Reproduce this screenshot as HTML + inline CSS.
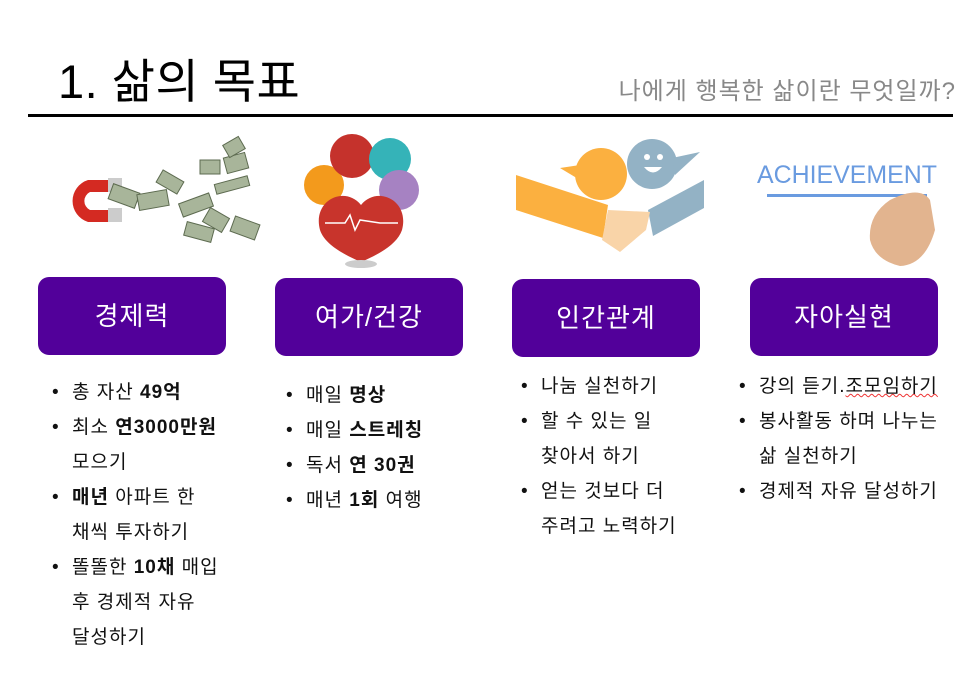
<!DOCTYPE html>
<html><head><meta charset="utf-8"><style>
body{margin:0;width:974px;height:673px;background:#fff;position:relative;overflow:hidden;font-family:"Liberation Sans","Noto Sans CJK KR","NanumGothic",sans-serif;}
.a{position:absolute;}
.title{left:58px;top:55px;font-size:47px;color:#000;line-height:54px;letter-spacing:0.5px;}
.sub{right:18px;top:71px;font-size:24px;color:#888;letter-spacing:1px;}
.line{left:28px;top:114px;width:925px;height:3px;background:#000;}
.box{position:absolute;background:#52009a;border-radius:11px;color:#fff;font-size:26px;text-align:center;width:188px;height:78px;line-height:78px;letter-spacing:1px;}
ul{position:absolute;margin:0;padding:0;list-style:none;font-size:19px;color:#111;letter-spacing:1px;}
li{position:relative;padding-left:20px;line-height:35px;}
li::before{content:"•";position:absolute;left:0;top:0;}
b{font-weight:bold;}
</style></head><body>
<div class="a title">1. 삶의 목표</div>
<div class="a sub">나에게 행복한 삶이란 무엇일까?</div>
<div class="a line"></div>

<svg class="a" style="left:20px;top:130px" width="960" height="145">
 <path d="M68 50 A22 22 0 0 0 68 92 L90 92 L90 80 L70 80 A10 10 0 0 1 70 62 L90 62 L90 50 Z" fill="#d42a22"/>
 <rect x="88" y="48" width="14" height="14" fill="#ccc"/><rect x="88" y="78" width="14" height="14" fill="#ccc"/>
 <g fill="#a8b59a" stroke="#5d6b50" stroke-width="1">
  <rect x="90" y="58" width="28" height="16" transform="rotate(20 104 66)"/>
  <rect x="118" y="62" width="30" height="16" transform="rotate(-10 133 70)"/>
  <rect x="138" y="45" width="24" height="14" transform="rotate(30 150 52)"/>
  <rect x="160" y="68" width="32" height="14" transform="rotate(-20 176 75)"/>
  <rect x="165" y="95" width="28" height="14" transform="rotate(15 179 102)"/>
  <rect x="180" y="30" width="20" height="14"/>
  <rect x="205" y="25" width="22" height="16" transform="rotate(-15 216 33)"/>
  <rect x="195" y="50" width="34" height="10" transform="rotate(-15 212 55)"/>
  <rect x="185" y="82" width="22" height="16" transform="rotate(30 196 90)"/>
  <rect x="212" y="90" width="26" height="16" transform="rotate(20 225 98)"/>
  <rect x="205" y="10" width="18" height="14" transform="rotate(-30 214 17)"/>
 </g>
 <circle cx="304" cy="55" r="20" fill="#f39a1c"/>
 <circle cx="332" cy="26" r="22" fill="#c5322c"/>
 <circle cx="370" cy="29" r="21" fill="#35b3b8"/>
 <circle cx="379" cy="60" r="20" fill="#a682c2"/>
 <path d="M341 75 C325 55 292 70 300 100 C305 115 325 125 341 132 C357 125 377 115 382 100 C390 70 357 55 341 75 Z" fill="#c8342c"/>
 <ellipse cx="341" cy="134" rx="16" ry="4" fill="#ccc"/>
 <path d="M305 93 L325 93 L330 85 L335 100 L340 90 L360 93 L378 93" stroke="#fff" fill="none" stroke-width="1.5"/>
 <path d="M496 45 L588 75 L583 108 L496 80 Z" fill="#fbb040"/>
 <path d="M684 50 L684 78 L633 106 L628 80 Z" fill="#93b2c5"/>
 <path d="M588 80 L630 82 L626 100 L600 122 L582 110 Z" fill="#f9d4a8"/>
 <circle cx="581" cy="44" r="26" fill="#fbb040"/><path d="M540 38 L560 35 L560 50 Z" fill="#fbb040"/>
 <circle cx="632" cy="34" r="25" fill="#93b2c5"/><path d="M652 28 L680 22 L655 45 Z" fill="#93b2c5"/>
 <circle cx="627" cy="27" r="3" fill="#fff"/><circle cx="640" cy="27" r="3" fill="#fff"/>
 <path d="M624 37 Q633 48 642 37 Z" fill="#fff"/>
 <text x="737" y="53" font-size="25" fill="#6a9be0" font-family="Liberation Sans" textLength="180" lengthAdjust="spacingAndGlyphs">ACHIEVEMENT</text>
 <rect x="747" y="64" width="160" height="3" fill="#6a9be0"/>
 <path d="M870 70 Q900 55 910 70 L915 100 Q905 135 880 136 Q855 130 850 110 Q848 85 870 70 Z" fill="#e2b48f"/>
</svg>

<div class="box" style="left:38px;top:277px">경제력</div>
<div class="box" style="left:275px;top:278px">여가/건강</div>
<div class="box" style="left:512px;top:279px">인간관계</div>
<div class="box" style="left:750px;top:278px">자아실현</div>

<ul style="left:52px;top:375px">
<li>총 자산 <b>49억</b></li>
<li>최소 <b>연3000만원</b><br>모으기</li>
<li><b>매년</b> 아파트 한<br>채씩 투자하기</li>
<li>똘똘한 <b>10채</b> 매입<br>후 경제적 자유<br>달성하기</li>
</ul>
<ul style="left:286px;top:378px">
<li>매일 <b>명상</b></li>
<li>매일 <b>스트레칭</b></li>
<li>독서 <b>연 30권</b></li>
<li>매년 <b>1회</b> 여행</li>
</ul>
<ul style="left:521px;top:369px">
<li>나눔 실천하기</li>
<li>할 수 있는 일<br>찾아서 하기</li>
<li>얻는 것보다 더<br>주려고 노력하기</li>
</ul>
<ul style="left:739px;top:369px">
<li>강의 듣기.<span style="text-decoration:underline wavy #e33;text-decoration-thickness:1px">조모임하기</span></li>
<li>봉사활동 하며 나누는<br>삶 실천하기</li>
<li>경제적 자유 달성하기</li>
</ul>
</body></html>
